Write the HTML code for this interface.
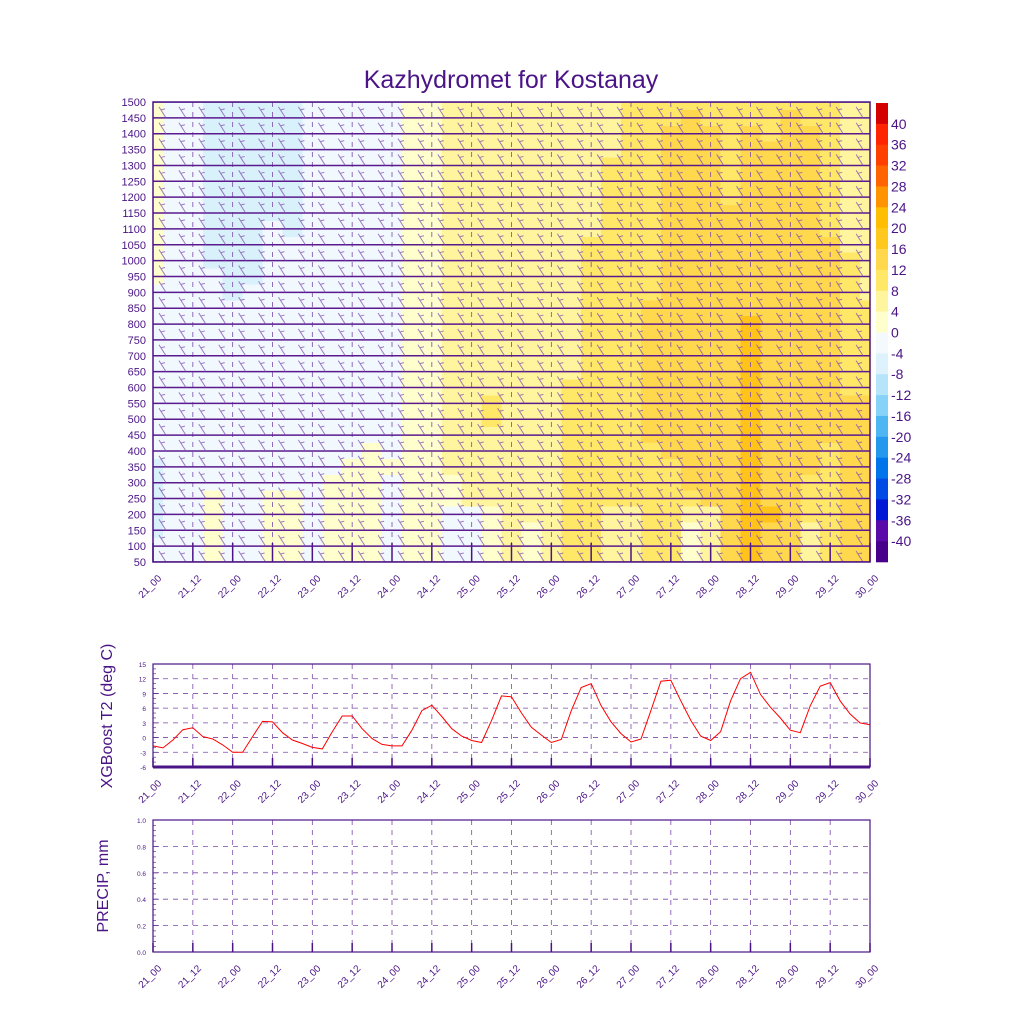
<!DOCTYPE html>
<html><head><meta charset="utf-8">
<style>
body{margin:0;background:#fff;}
svg{display:block;font-family:"Liberation Sans",sans-serif;}
</style></head>
<body>
<svg id="chart" width="1024" height="1024" viewBox="0 0 1024 1024">
<text x="511" y="88" text-anchor="middle" font-size="25" fill="#4a1486">Kazhydromet for Kostanay</text>
<g id="topG"></g>
<g id="cbar"></g>
<g id="t2"></g>
<g id="pr"></g>
</svg>
<script>
// ---------- data ----------
const levels = [1500,1450,1400,1350,1300,1250,1200,1150,1100,1050,1000,950,900,850,800,750,700,650,600,550,500,450,400,350,300,250,200,150,100,50];
const timeTicks = ["21_00","21_12","22_00","22_12","23_00","23_12","24_00","24_12","25_00","25_12","26_00","26_12","27_00","27_12","28_00","28_12","29_00","29_12","30_00"];
// temperature class per (level row, 6-hourly column)
const tempClassRows = [
"ywwBBBBBwwwwwyyYYYYYYYYYoooooooooooYY",
"ywwBBBBBwwwwwyyYYYYYYYYYoooOooooOooYY",
"ywwBBBBBwwwwwyyYYYYYYYYYooOOOoOoOOoYY",
"ywwBBBBBwwwwwyyYYYYYYYYYooOOOoOOOOoYY",
"ywwBBBBBwwwwwyyYYYYYYYYoooOOOoOOOOoYY",
"ywwBBBBBwwwwwyyYYYYYYYYoooOOOoOOOOoYY",
"ywwBBBBBwwwwwyyYYYYYYYYoooOOOoOOOOoYY",
"ywwBBBBBwwwwwyyYYYYYYYYoooOOOOOOOOoYY",
"ywwBBBwBwwwwwyyYYYYYYYYoooOOOOOOOOoYY",
"ywwBBBwwwwwwwyyYYYYYYYooooOOOOOOOOOYY",
"ywwBBBwwwwwwwyyYYYYYYYooooOOOOOOOOOoY",
"ywwwBBwwwwwwwyyYYYYYYYooooOOOOOOOOOoY",
"wwwwBwwwwwwwwyyYYYYYYYooooOOOOOOOOOoY",
"wwwwwwwwwwwwwyyYYYYYYYoooOOOOOOOOOOoo",
"wwwwwwwwwwwwwyyYYYYYYYoooOOOOOROOOOoo",
"wwwwwwwwwwwwwyyYYYYYYYoooOOOOOROOOOoo",
"wwwwwwwwwwwwwyyYYYYYYYoooOOOOOROOOOoo",
"wwwwwwwwwwwwwyyYYYYYYYoooOOOOOROOOOoo",
"wwwwwwwwwwwwwyyYYYYYYooooOOOOOROOOOoo",
"wwwwwwwwwwwwwyyYYoYYYooooOOOOOROOOOOO",
"wwwwwwwwwwwwwyyYYoYYYooooOOOOOROOOOOO",
"wwwwwwwwwwwwwyyYYYYYYooooOOOOOROOOOOO",
"wwwwwwwwwwwywyyYYYYYYoooooOOOOROOOoOO",
"BwwwwwwwwwyyyyyYYYYYYooooooOOOROOOoOO",
"BwwwwwwwwyyywyyyYYYYYooooooOOOROOooOO",
"BwwywwyywyyywyyyYYYYYoooooooOOROOooOO",
"BwwywwyywyyywyywwyYYYooYYooYYORROooOO",
"BwwywwyywyyywyywwyYyYooYYooyYOROOYoOO",
"wwwywwyywyyywyywwyYyYooYYooyYOROOYoOO",
"wwwywwyywyyywyywwyYyYooYYooyYOROOYoOO"
];
const classColors = {B:"#d9f1fb",w:"#f1f8fe",y:"#ffffcd",Y:"#fff59f",o:"#ffe768",O:"#ffd84d",R:"#ffc31a"};
const cbarColors = ["#d40000","#ff2400","#ff3f00","#ff6400","#ff9400","#ffbe00","#ffc81e","#ffd84d","#ffe768","#fff59f","#ffffcd","#f4f9fe","#ddf2fc","#b6e5fb","#86d2f9","#4fb6f4","#2398ec","#0074ea","#004ae6","#0018d6","#5a0aa8","#48008c"];
const cbarLabels = ["40","36","32","28","24","20","16","12","8","4","0","-4","-8","-12","-16","-20","-24","-28","-32","-36","-40"];
const t2Values = [-1.7,-2.1,-0.5,1.6,2.0,0.2,-0.3,-1.5,
 -3.0,-3.0,0.2,3.3,3.2,1.0,-0.5,-1.2,
 -2.0,-2.3,1.2,4.4,4.4,1.8,-0.2,-1.4,
 -1.7,-1.7,1.5,5.5,6.6,4.3,1.8,0.3,
 -0.6,-1.0,3.5,8.5,8.3,5.0,2.1,0.5,
 -1.0,-0.4,5.5,10.2,11.0,6.5,3.2,0.8,
 -0.9,-0.3,5.5,11.5,11.7,7.5,3.5,0.3,
 -0.6,1.2,7.5,12.0,13.3,8.8,6.2,4.0,
 1.5,1.0,6.5,10.5,11.2,7.5,4.8,3.0,2.6];
const t2Ticks = [15,12,9,6,3,0,-3,-6];
const precipValues = [0,0,0,0,0,0,0,0,0,0,0,0,0,0,0,0,0,0,0,0,0,0,0,0,0,0,0,0,0,0,0,0,0,0,0,0,0,0,0,0,0,0,0,0,0,0,0,0,0,0,0,0,0,0,0,0,0,0,0,0,0,0,0,0,0,0,0,0,0,0,0,0,0];
const precipTicks = ["1.0","0.8","0.6","0.4","0.2","0.0"];

// ---------- helpers ----------
const NS="http://www.w3.org/2000/svg";
function mk(tag, attrs, parent){const e=document.createElementNS(NS,tag);for(const k in attrs)e.setAttribute(k,attrs[k]);parent.appendChild(e);return e;}
const X0=153,X1=870,HOURS=216;
function xH(h){return X0+(X1-X0)*h/HOURS;}
const purple="#4a1486";

// ---------- top contour panel ----------
const topG=document.getElementById('topG');
const TY0=102,TY1=562;
function yLev(l){return TY1-(l-50)*(TY1-TY0)/1450;}
const rowH=(TY1-TY0)/29, colW=(X1-X0)/36;
const clip=mk('clipPath',{id:'tc'},topG); mk('rect',{x:X0,y:TY0,width:X1-X0,height:TY1-TY0},clip);
const cells=mk('g',{'clip-path':'url(#tc)','shape-rendering':'crispEdges'},topG);


tempClassRows.forEach((row,r)=>{
  if(r>=levels.length) return;
  const yc=yLev(levels[r]);
  for(let c=0;c<37;c++){
    const ch=row[c]||'w';
    const el=mk('rect',{x:xH(c*6)-colW/2,y:yc-rowH/2,width:colW+0.5,height:rowH+0.5,fill:classColors[ch]},cells);
    
    
  }
});
function drawXAxis(g,yb,yTickTop,labelY,dash,yTop){
  timeTicks.forEach((lab,i)=>{
    const x=xH(i*12);
    if(dash && i>0 && i<18){
      const d=mk('line',{x1:x,x2:x,y1:yTop,y2:yb,stroke:'#7a4aa8','stroke-dasharray':'5,5','stroke-width':0.8},g);
      
      
    }
    const tk=mk('line',{x1:x,x2:x,y1:yb,y2:yTickTop,stroke:purple,'stroke-width':1.5},g);
    
    
    const lx=x+9, ly=labelY+3;
    const t=mk('text',{x:lx,y:ly,'text-anchor':'end','font-size':10,fill:purple,transform:`rotate(-45 ${lx} ${ly})`},g);
    t.textContent=lab;
    
    
  });
}
drawXAxis(topG,TY1,TY1-19,TY1+14,true,TY0);
// level lines and barbs
const barbG=mk('g',{'clip-path':'url(#tc)'},topG);
levels.forEach((l,i)=>{
  const y=yLev(l);
  const ln=mk('line',{x1:X0,x2:X1,y1:y,y2:y,stroke:'#5a1a8e','stroke-width':1.5},barbG);
  
  
  for(let c=0;c<36;c++){
    const x=xH(c*6)+10;
    const b=mk('path',{d:`M${x-4} ${y-11} L${x+3} ${y} M${x-2} ${y-8} L${x+2} ${y-9}`,stroke:'#8050b0','stroke-width':1,fill:'none',opacity:0.75},barbG);
    
    
  }
  const t=mk('text',{x:146,y:y+4,'text-anchor':'end','font-size':11,fill:purple},topG);
  t.textContent=l;
  
  
});
const tb=mk('rect',{x:X0,y:TY0,width:X1-X0,height:TY1-TY0,fill:'none',stroke:purple,'stroke-width':1.5},topG);



// ---------- colorbar ----------
const cb=document.getElementById('cbar');
const CB0=103,CB1=562,cbh=(CB1-CB0)/cbarColors.length;
cbarColors.forEach((c,i)=>{
  const r=mk('rect',{x:876,y:CB0+i*cbh,width:12,height:cbh+0.3,fill:c},cb);
  
  
});
cbarLabels.forEach((l,i)=>{
  const t=mk('text',{x:891,y:CB0+(i+1)*cbh+5,'font-size':14,fill:purple},cb);
  t.textContent=l;
  
  
});

// ---------- T2 panel ----------
const t2=document.getElementById('t2');
const PY0=664,PY1=767;
function yT(v){return PY1-(v+6)*(PY1-PY0)/21;}
t2Ticks.forEach(v=>{
  const y=yT(v);
  if(v>-6&&v<15){
    const g=mk('line',{x1:X0,x2:X1,y1:y,y2:y,stroke:'#7a4aa8','stroke-dasharray':'5,5','stroke-width':0.8},t2);
    
    
  }
  const t=mk('text',{x:146,y:y+3,'text-anchor':'end','font-size':6.5,fill:purple},t2);
  t.textContent=v;
  
  
});
for(let v=-6;v<=15;v++){const y=yT(v);mk('line',{x1:X0,x2:X0+(v%3===0?6:3),y1:y,y2:y,stroke:purple,'stroke-width':0.6},t2);}
drawXAxis(t2,PY1,PY1-9,PY1+14,true,PY0);
const t2path=t2Values.map((v,i)=>(i?'L':'M')+xH(i*3).toFixed(1)+' '+yT(v).toFixed(1)).join(' ');
const tl=mk('path',{d:t2path,fill:'none',stroke:'#ff0000','stroke-width':1},t2);


mk('line',{x1:X0,x2:X1,y1:PY1,y2:PY1,stroke:purple,'stroke-width':3},t2);
const tf=mk('rect',{x:X0,y:PY0,width:X1-X0,height:PY1-PY0,fill:'none',stroke:purple,'stroke-width':1.2},t2);


const tt=mk('text',{x:0,y:0,'text-anchor':'middle','font-size':16,fill:purple,transform:`translate(112 716) rotate(-90)`},t2);
tt.textContent='XGBoost T2 (deg C)';



// ---------- precip panel ----------
const pr=document.getElementById('pr');
const RY0=820,RY1=952;
function yP(v){return RY1-v*(RY1-RY0);}
precipTicks.forEach(l=>{
  const v=parseFloat(l),y=yP(v);
  if(v>0&&v<1){
    const g=mk('line',{x1:X0,x2:X1,y1:y,y2:y,stroke:'#7a4aa8','stroke-dasharray':'5,5','stroke-width':0.8},pr);
    
    
  }
  const t=mk('text',{x:146,y:y+3,'text-anchor':'end','font-size':6.5,fill:purple},pr);
  t.textContent=l;
  
  
});
for(let k=0;k<=25;k++){const y=yP(k*0.04);mk('line',{x1:X0,x2:X0+(k%5===0?6:3),y1:y,y2:y,stroke:purple,'stroke-width':0.6},pr);}
drawXAxis(pr,RY1,RY1-9,RY1+14,true,RY0);
const ppath=precipValues.map((v,i)=>(i?'L':'M')+xH(i*3).toFixed(1)+' '+yP(v).toFixed(1)).join(' ');
const pl=mk('path',{d:ppath,fill:'none',stroke:'#ff0000','stroke-width':1},pr);


const pf=mk('rect',{x:X0,y:RY0,width:X1-X0,height:RY1-RY0,fill:'none',stroke:purple,'stroke-width':1.2},pr);


const pt=mk('text',{x:0,y:0,'text-anchor':'middle','font-size':16,fill:purple,transform:`translate(108 886) rotate(-90)`},pr);
pt.textContent='PRECIP, mm';


</script>
</body></html>
